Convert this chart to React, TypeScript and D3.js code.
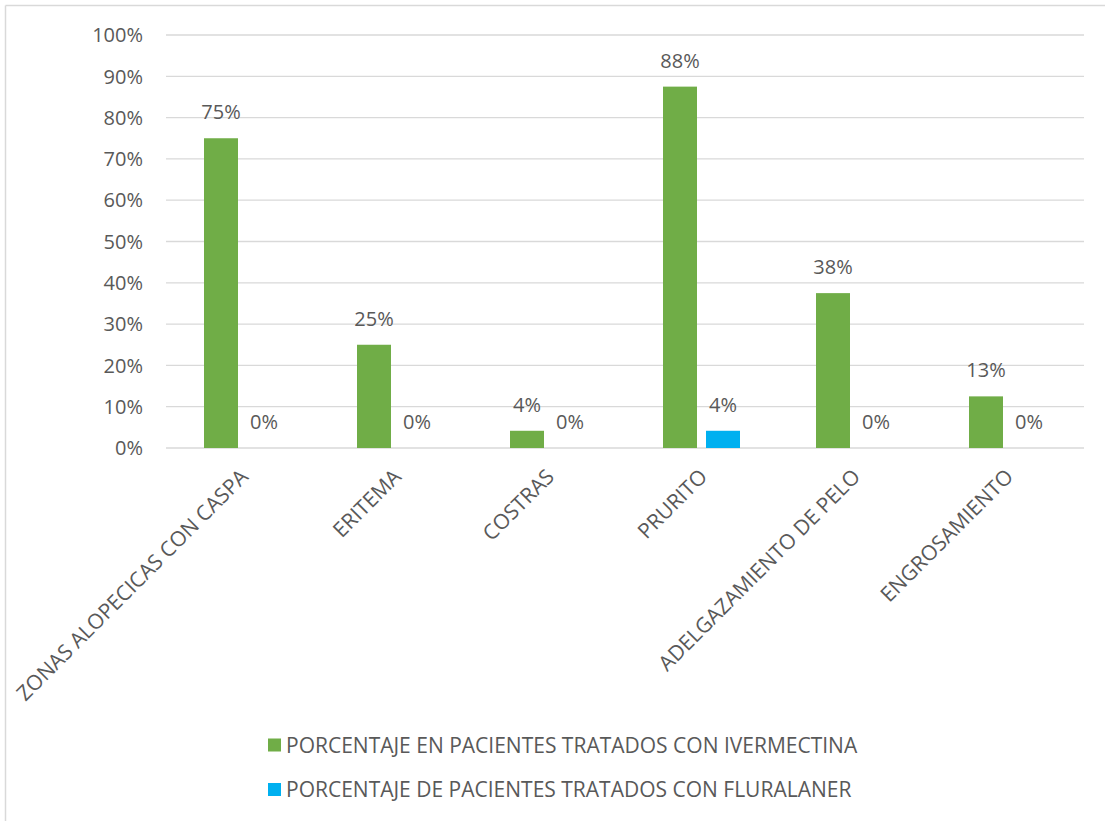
import React from "react";
import * as d3 from "d3";

const categories = [
  "ZONAS ALOPECICAS CON CASPA",
  "ERITEMA",
  "COSTRAS",
  "PRURITO",
  "ADELGAZAMIENTO DE PELO",
  "ENGROSAMIENTO",
];
const ivermectina = [75, 25, 4.17, 87.5, 37.5, 12.5];
const fluralaner = [0, 0, 0, 4.17, 0, 0];
const seriesNames = [
  "PORCENTAJE EN PACIENTES TRATADOS CON IVERMECTINA",
  "PORCENTAJE DE PACIENTES TRATADOS CON FLURALANER",
];
const colors = ["#70AD47", "#00B0F0"];
const yTicks = [0, 10, 20, 30, 40, 50, 60, 70, 80, 90, 100];

const W = 1105;
const H = 821;
const FONT = "'Open Sans', 'Noto Sans', sans-serif";
const TXT = "#595959";

export default function App() {
  const left = 166;
  const right = 1084;
  const top = 35;
  const bottom = 448;

  const x0 = d3.scaleBand<string>().domain(categories).range([left, right]).paddingInner(0).paddingOuter(0);
  const y = d3.scaleLinear().domain([0, 100]).range([bottom, top]);
  const groupW = 77;
  const barW = 34;
  const x1 = d3.scaleBand<string>().domain(["a", "b"]).range([0, groupW]).paddingInner(9 / 43).paddingOuter(0);

  const series = [ivermectina, fluralaner];

  return (
    <svg
      width={W}
      height={H}
      style={{ position: "absolute", left: 0, top: 0, background: "#fff" }}
      fontFamily={FONT}
    >
      <rect x={0} y={0} width={W} height={H} fill="#fff" />
      {/* chart border */}
      <line x1={5.5} y1={5.5} x2={W} y2={5.5} stroke="#D9D9D9" strokeWidth={1.5} />
      <line x1={5.5} y1={5.5} x2={5.5} y2={H} stroke="#D9D9D9" strokeWidth={1.5} />

      {/* gridlines */}
      {yTicks.map((t) => (
        <line key={t} x1={left} x2={right} y1={y(t)} y2={y(t)} stroke="#D9D9D9" strokeWidth={1.3} />
      ))}
      {/* y tick labels */}
      {yTicks.map((t) => (
        <text key={"l" + t} x={143} y={y(t)} dy="0.36em" textAnchor="end" fontSize={20} fill={TXT}>
          {t}%
        </text>
      ))}

      {/* bars */}
      {categories.map((c, i) => {
        const gx = (x0(c) as number) + (x0.bandwidth() - groupW) / 2;
        return (
          <g key={c}>
            {series.map((s, k) => {
              const bx = gx + (x1(k === 0 ? "a" : "b") as number);
              const v = s[i];
              return (
                <g key={k}>
                  {v > 0 && (
                    <rect x={bx} y={y(v)} width={barW} height={bottom - y(v)} fill={colors[k]} />
                  )}
                  <text x={bx + barW / 2} y={y(v) - 19} textAnchor="middle" fontSize={20} fill={TXT}>
                    {Math.round(v)}%
                  </text>
                </g>
              );
            })}
          </g>
        );
      })}

      {/* x axis labels */}
      {categories.map((c) => {
        const cx = (x0(c) as number) + x0.bandwidth() / 2;
        const ax = cx + 7;
        const ay = bottom + 30;
        return (
          <text
            key={"x" + c}
            x={ax}
            y={ay}
            textAnchor="end"
            fontSize={21}
            fill={TXT}
            transform={`rotate(-45, ${ax}, ${ay})`}
          >
            {c}
          </text>
        );
      })}

      {/* legend */}
      {seriesNames.map((n, k) => {
        const ly = 752.5 + k * 44.5;
        return (
          <g key={n}>
            <rect x={268} y={ly - 14} width={13} height={13} fill={colors[k]} />
            <text x={286} y={ly} fontSize={21} fill={TXT}>
              {n}
            </text>
          </g>
        );
      })}
    </svg>
  );
}
